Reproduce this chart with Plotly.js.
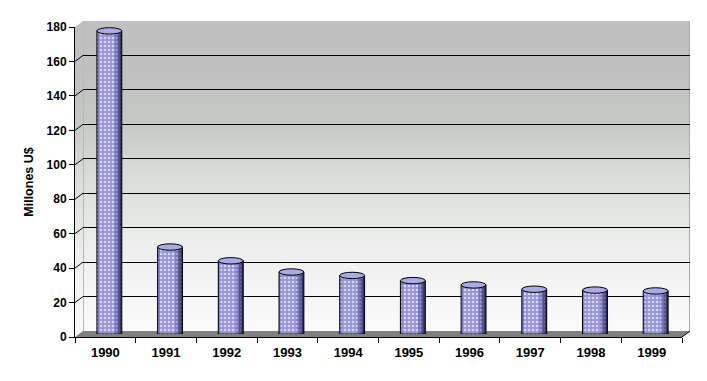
<!DOCTYPE html>
<html>
<head>
<meta charset="utf-8">
<script src="https://cdn.plot.ly/plotly-3.0.1.min.js"></script>
<style>
html,body{margin:0;padding:0;background:#fff;}
#chart{width:707px;height:381px;}
</style>
</head>
<body>
<div id="chart"></div>
<script>
// ---- data ----
var years = ["1990","1991","1992","1993","1994","1995","1996","1997","1998","1999"];
var values = [176, 50.5, 42.5, 36, 34, 31, 28.5, 26, 25.5, 25];
var yTicks = [0, 20, 40, 60, 80, 100, 120, 140, 160, 180];

// ---- geometry (pixels) ----
var W = 707, H = 381;
var mL = 75, mR = 17, mT = 21, mB = 44;
var PW = W - mL - mR;   // 615
var PH = H - mT - mB;   // 316
var dx = 8, dy = 6;     // 3D depth offset
var FW = PW - dx, FH = PH - dy; // front frame size
var yMax = 180;
var pxPerUnit = FH / yMax;

var idx = years.map(function(_, i){ return i; });
var barW = 0.41;
var ry = 3.2 / pxPerUnit;

// background wall svg
var svg =
 '<svg xmlns="http://www.w3.org/2000/svg" width="'+PW+'" height="'+PH+'" viewBox="0 0 '+PW+' '+PH+'" preserveAspectRatio="none">' +
 '<defs><linearGradient id="g" x1="0" y1="0" x2="0" y2="1">' +
 '<stop offset="0" stop-color="#c0c0c0"/>' +
 '<stop offset="0.17" stop-color="#c0c0c0"/>' +
 '<stop offset="0.32" stop-color="#c5c9c5"/>' +
 '<stop offset="0.5" stop-color="#d9dcd9"/>' +
 '<stop offset="0.7" stop-color="#eaecea"/>' +
 '<stop offset="0.88" stop-color="#f5f5f5"/>' +
 '<stop offset="1" stop-color="#fafafa"/>' +
 '</linearGradient></defs>' +
 '<rect x="'+dx+'" y="0" width="'+FW+'" height="'+FH+'" fill="url(#g)"/>' +
 '<polygon points="0,'+dy+' '+dx+',0 '+dx+','+FH+' 0,'+PH+'" fill="url(#g)"/>' +
 '<line x1="'+(dx+0.5)+'" y1="0" x2="'+(dx+0.5)+'" y2="'+FH+'" stroke="#b8b8b8" stroke-width="1"/>' +
 '<line x1="'+(PW-0.5)+'" y1="0" x2="'+(PW-0.5)+'" y2="'+FH+'" stroke="#a8a8a8" stroke-width="1"/>' +
 '<polygon points="0,'+PH+' '+FW+','+PH+' '+PW+','+FH+' '+dx+','+FH+'" fill="#808080"/>' +
 '<line x1="'+FW+'" y1="'+PH+'" x2="'+PW+'" y2="'+FH+'" stroke="#000" stroke-width="1"/>' +
 '</svg>';
var svgUri = 'data:image/svg+xml;charset=utf-8,' + encodeURIComponent(svg);

var ff = 'Arial, "Liberation Sans", sans-serif';

var traces = [];
traces.push({type:'scatter', x:[0], y:[0], xaxis:'x2', yaxis:'y2', mode:'markers',
  marker:{opacity:0}, hoverinfo:'skip', showlegend:false});
traces.push({type:'bar', x:years, y:values.map(function(){return 0;}), xaxis:'x', yaxis:'y',
  marker:{color:'rgba(0,0,0,0)'}, hoverinfo:'skip', showlegend:false});
// cylinder body
traces.push({type:'bar', x:idx, y:values, xaxis:'x3', yaxis:'y3', width:barW,
  marker:{color:'#9696dc', line:{width:0},
    pattern:{shape:'.', fillmode:'replace', bgcolor:'#9494da', fgcolor:'#d8d8fa', fgopacity:1, size:4, solidity:0.35}},
  showlegend:false, hoverinfo:'y'});
// shading stripes
var stripes = [
  {o:-barW/2, w:0.035, c:'rgba(60,60,130,0.30)'},
  {o:barW/2-0.12, w:0.12, c:'rgba(40,40,110,0.30)'},
  {o:barW/2-0.07, w:0.07, c:'rgba(25,25,80,0.40)'},
  {o:barW/2-0.03, w:0.03, c:'rgba(15,15,50,0.5)'}
];
stripes.forEach(function(s){
  traces.push({type:'bar', x:idx, y:values, xaxis:'x3', yaxis:'y3', width:s.w,
    offset:s.o, marker:{color:s.c, line:{width:0}}, showlegend:false, hoverinfo:'skip'});
});
// outline
traces.push({type:'bar', x:idx, y:values, xaxis:'x3', yaxis:'y3', width:barW,
  marker:{color:'rgba(0,0,0,0)', line:{color:'#000', width:1}}, showlegend:false, hoverinfo:'skip'});

var shapes = [];
idx.forEach(function(i){
  shapes.push({type:'circle', xref:'x3', yref:'y3', layer:'below',
    x0:i-barW/2, x1:i+barW/2, y0:-ry, y1:ry,
    fillcolor:'#5a5aa0', line:{color:'#000', width:1}});
});
idx.forEach(function(i){
  shapes.push({type:'circle', xref:'x3', yref:'y3', layer:'above',
    x0:i-barW/2, x1:i+barW/2, y0:values[i]-ry, y1:values[i]+ry,
    fillcolor:'#aaaae6', line:{color:'#000', width:1}});
});
yTicks.forEach(function(v){
  if (v === 0 || v === yMax) return;
  var yf = v / yMax * (FH / PH);
  var yb = yf + dy / PH;
  shapes.push({type:'path', xref:'paper', yref:'paper', layer:'below',
    path:'M0,'+yf+' L'+(dx/PW)+','+yb, line:{color:'#000', width:1}});
});

var gridTicks = yTicks.filter(function(v){ return v > 0 && v < yMax; });

var layout = {
  width:W, height:H,
  margin:{l:mL, r:mR, t:mT, b:mB, pad:0},
  paper_bgcolor:'#ffffff', plot_bgcolor:'rgba(0,0,0,0)',
  showlegend:false, barmode:'overlay',
  font:{family:ff, size:12, color:'#000'},
  images:[{source:svgUri, xref:'paper', yref:'paper', x:0, y:1, sizex:1, sizey:1,
    xanchor:'left', yanchor:'top', sizing:'stretch', layer:'below'}],
  xaxis:{domain:[0, FW/PW], anchor:'y', type:'category', categoryarray:years,
    range:[-0.5, 9.5], showgrid:false, zeroline:false, showline:true, linecolor:'#000', linewidth:1,
    ticks:'outside', tickson:'boundaries', ticklen:5, tickcolor:'#000', ticklabelstandoff:3,
    tickfont:{family:ff, size:13, weight:700}, fixedrange:true},
  yaxis:{domain:[0, FH/PH], anchor:'x', range:[0, yMax], tickvals:yTicks, showgrid:false,
    zeroline:false, showline:true, linecolor:'#000', linewidth:1, ticks:'outside', ticklen:5,
    tickcolor:'#000', tickfont:{family:ff, size:12, weight:700},
    title:{text:'Millones U$', font:{family:ff, size:12.5, weight:700}, standoff:10}, fixedrange:true},
  xaxis2:{domain:[dx/PW, 1], anchor:'y2', range:[-0.5, 9.5], visible:false, fixedrange:true},
  yaxis2:{domain:[dy/PH, 1], anchor:'x2', range:[0, yMax], tickvals:gridTicks, showgrid:true,
    gridcolor:'#000', gridwidth:1, zeroline:false, showticklabels:false, ticks:'', showline:false, fixedrange:true},
  xaxis3:{domain:[dx/2/PW, (FW+dx/2)/PW], anchor:'y3', range:[-0.5, 9.5], visible:false, fixedrange:true},
  yaxis3:{domain:[dy/2/PH, (FH+dy/2)/PH], anchor:'x3', range:[0, yMax], visible:false, fixedrange:true},
  shapes:shapes
};

Plotly.newPlot('chart', traces, layout, {displayModeBar:false, staticPlot:true});
</script>
</body>
</html>
